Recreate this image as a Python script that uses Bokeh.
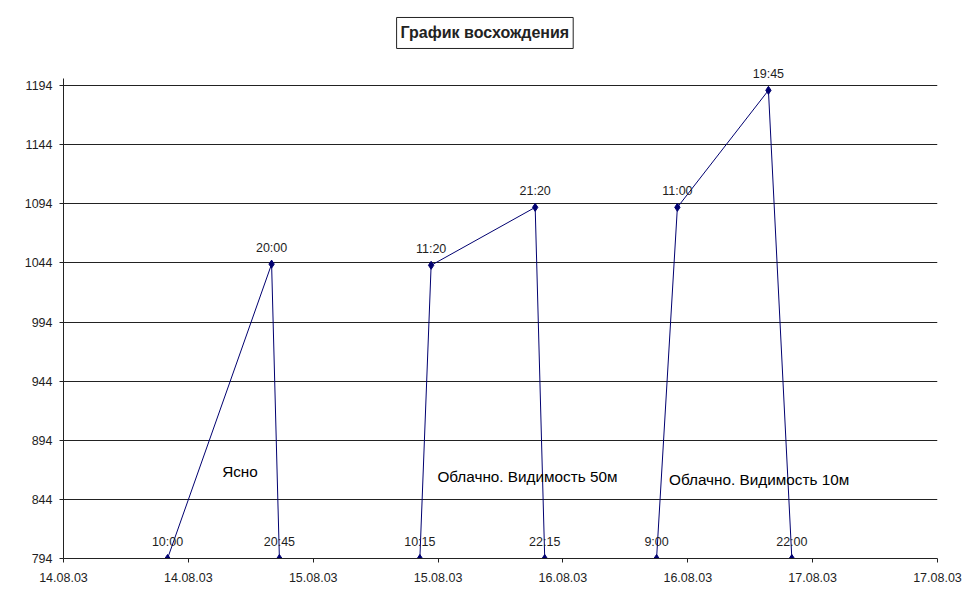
import pandas as pd
from bokeh.plotting import figure
from bokeh.core.properties import value
from bokeh.models import (ColumnDataSource, FixedTicker, DatetimeTickFormatter,
                          Range1d, LabelSet, Label)
from bokeh.embed import file_html
from bokeh.resources import INLINE

# ---- data ----
dates = ["14.08.03", "14.08.03", "14.08.03", "15.08.03", "15.08.03", "15.08.03",
         "15.08.03", "16.08.03", "16.08.03", "16.08.03", "16.08.03"]
times = ["10:00", "20:00", "20:45", "10:15", "11:20", "21:20",
         "22:15", "9:00", "11:00", "19:45", "22:00"]
altitudes = [794, 1043, 794, 794, 1042, 1091, 794, 794, 1091, 1190, 794]

y_ticks = [794, 844, 894, 944, 994, 1044, 1094, 1144, 1194]
y_axis_top = 1200
x_tick_times = ["14.08.03 0:00", "14.08.03 12:00", "15.08.03 0:00", "15.08.03 12:00",
                "16.08.03 0:00", "16.08.03 12:00", "17.08.03 0:00", "17.08.03 12:00"]

notes = ["Ясно", "Облачно. Видимость 50м", "Облачно. Видимость 10м"]
note_times = ["14.08.03 15:15", "15.08.03 11:56", "16.08.03 10:12"]
note_alt = [868, 863, 861]

title_text = "График восхождения"
title_anchor_time = "15.08.03 16:30"
title_anchor_alt = 1238.5

# ---- build ----
fmt = "%d.%m.%y %H:%M"
xs = pd.to_datetime([d + " " + t for d, t in zip(dates, times)], format=fmt)
tick_dt = pd.to_datetime(x_tick_times, format=fmt)
tick_ms = [t.value / 1e6 for t in tick_dt]
note_x = pd.to_datetime(note_times, format=fmt)
title_x = pd.to_datetime(title_anchor_time, format=fmt).value / 1e6

src = ColumnDataSource(dict(x=xs, y=altitudes, t=times))
nsrc = ColumnDataSource(dict(x=note_x, y=note_alt, t=notes))

FONT = "Liberation Sans"
TXT = "#1e1e1e"

# axis part of the frame is 480 px for 794..1200; frame extended upward to host the title
AXIS_PX = 480
FRAME_H = 548
y_end = y_ticks[0] + (y_axis_top - y_ticks[0]) * FRAME_H / AXIS_PX

p = figure(x_axis_type="datetime", output_backend="svg", toolbar_location=None,
           frame_width=874, frame_height=FRAME_H,
           min_border_left=63, min_border_right=25, min_border_top=10, min_border_bottom=40,
           x_range=Range1d(tick_dt[0], tick_dt[-1]), y_range=Range1d(y_ticks[0], y_end),
           background_fill_color="white", border_fill_color="white")

p.outline_line_color = None
p.xgrid.visible = False
p.ygrid.ticker = FixedTicker(ticks=y_ticks)
p.ygrid.grid_line_color = "#222222"
p.ygrid.grid_line_width = 1

p.xaxis.ticker = FixedTicker(ticks=tick_ms)
p.xaxis.formatter = DatetimeTickFormatter(
    microseconds="%d.%m.%y", milliseconds="%d.%m.%y", seconds="%d.%m.%y",
    minsec="%d.%m.%y", minutes="%d.%m.%y", hourmin="%d.%m.%y", hours="%d.%m.%y",
    days="%d.%m.%y", months="%d.%m.%y", years="%d.%m.%y")
p.yaxis.ticker = FixedTicker(ticks=y_ticks)
p.yaxis.bounds = (y_ticks[0], y_axis_top)

for ax in (p.xaxis, p.yaxis):
    ax.axis_line_color = "#222222"
    ax.major_tick_line_color = "#222222"
    ax.major_tick_in = 0
    ax.major_tick_out = 4
    ax.minor_tick_line_color = None
    ax.major_label_text_font = FONT
    ax.major_label_text_font_size = "12.5px"
    ax.major_label_text_color = TXT
p.xaxis.major_label_standoff = 10
p.yaxis.major_label_standoff = 7

p.line("x", "y", source=src, line_color="#000070", line_width=1)
p.scatter("x", "y", source=src, marker="diamond", size=8,
          fill_color="#000070", line_color="#000070")

p.add_layout(LabelSet(x="x", y="y", text="t", source=src, text_align="center",
                      text_baseline="alphabetic", y_offset=12.5,
                      text_font=value(FONT), text_font_size=value("12.5px"),
                      text_color=TXT))
p.add_layout(LabelSet(x="x", y="y", text="t", source=nsrc, text_align="left",
                      text_baseline="middle",
                      text_font=value(FONT), text_font_size=value("15.3px"),
                      text_color="black"))

# boxed chart title
p.add_layout(Label(x=title_x, y=title_anchor_alt, text=title_text,
                   text_align="center", text_baseline="middle",
                   text_font=FONT, text_font_size="16px", text_font_style="bold",
                   text_color="#222222", border_line_color="#222222",
                   border_line_width=1, background_fill_color="white",
                   padding=(4, 7)))

open("out.html", "w").write(file_html(p, INLINE))
